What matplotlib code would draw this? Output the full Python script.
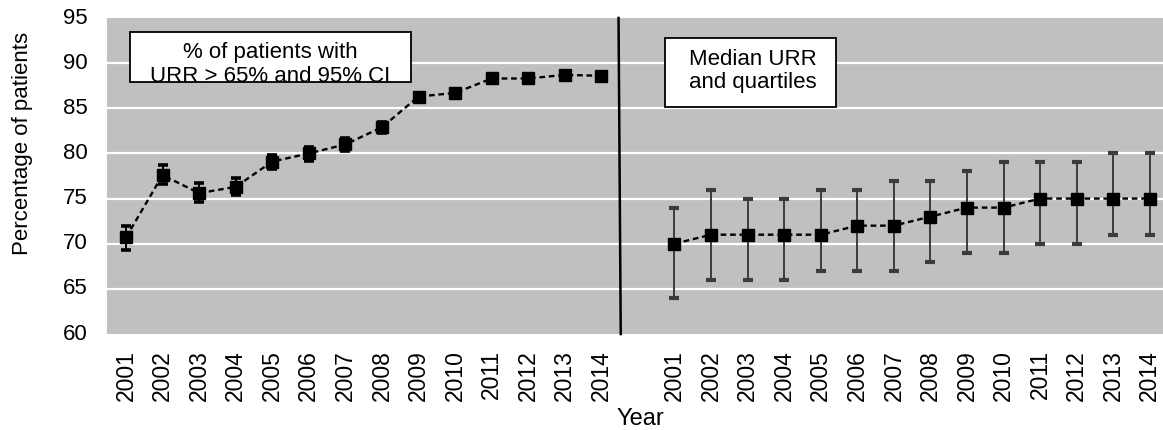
import matplotlib
matplotlib.use("Agg")
import matplotlib.pyplot as plt
from matplotlib.patches import Rectangle
import numpy as np

plt.rcParams['font.family'] = ['Liberation Sans', 'DejaVu Sans']

years = [2001, 2002, 2003, 2004, 2005, 2006, 2007, 2008, 2009, 2010, 2011, 2012, 2013, 2014]

# % of patients with URR > 65% and 95% CI
pct = [70.7, 77.6, 75.6, 76.3, 79.1, 80.0, 81.0, 82.9, 86.3, 86.7, 88.3, 88.3, 88.7, 88.6]
pct_lo = [69.3, 76.6, 74.6, 75.4, 78.3, 79.2, 80.3, 82.3, 85.8, 86.3, 88.0, 88.0, 88.4, 88.3]
pct_hi = [72.0, 78.7, 76.7, 77.3, 79.8, 80.7, 81.7, 83.5, 86.7, 87.1, 88.6, 88.6, 89.0, 88.9]

# Median URR and quartiles
median = [70, 71, 71, 71, 71, 72, 72, 73, 74, 74, 75, 75, 75, 75]
q1 = [64, 66, 66, 66, 67, 67, 67, 68, 69, 69, 70, 70, 71, 71]
q3 = [74, 76, 75, 75, 76, 76, 77, 77, 78, 79, 79, 79, 80, 80]

yticks = [60, 65, 70, 75, 80, 85, 90, 95]

W, H = 1163, 430
fig = plt.figure(figsize=(W / 100, H / 100), dpi=100)

def fx(px):
    return px / W

def fy(py):
    return 1 - py / H

ax = fig.add_axes([fx(107), fy(334), fx(1163) - fx(107), fy(18) - fy(334)])
ax.set_facecolor('#C0C0C0')
for s in ax.spines.values():
    s.set_visible(False)

n = len(years)
x_left = np.arange(n)
x_right = np.arange(n) + n + 1
sep_x = n - 0.5

ax.set_xlim(-0.52, 28.36)
ax.set_ylim(60, 95)
ax.set_yticks(yticks)
ax.set_yticklabels([str(v) for v in yticks])
for g in yticks[1:-1]:
    ax.axhline(g, color='white', lw=1.6, zorder=1)

ax.set_xticks(list(x_left) + list(x_right))
ax.set_xticklabels([str(y) for y in years] * 2, rotation=90)
ax.tick_params(axis='x', length=0, pad=11.5, labelsize=16.5)
ax.tick_params(axis='y', length=0, pad=14, labelsize=16)
for lab in ax.get_yticklabels():
    lab.set_verticalalignment('center')

dash = (2.4, 1.6)

# Left panel
pct_a = np.array(pct)
err_l = [pct_a - np.array(pct_lo), np.array(pct_hi) - pct_a]
ax.errorbar(x_left, pct, yerr=err_l, fmt='none', ecolor='black', elinewidth=1.4,
            capsize=3.6, capthick=2.6, zorder=3)
ax.plot(x_left, pct, color='black', lw=1.7, dashes=dash, marker='s', markersize=8,
        markerfacecolor='black', markeredgecolor='black', zorder=4)

# Right panel
med_a = np.array(median)
err_r = [med_a - np.array(q1), np.array(q3) - med_a]
eb2 = ax.errorbar(x_right, median, yerr=err_r, fmt='none', ecolor='#3c3c3c', elinewidth=1.4,
                  capsize=3.8, capthick=3.0, zorder=3)
for cap in eb2[1]:
    cap.set_color('black')
ax.plot(x_right, median, color='black', lw=1.7, dashes=dash, marker='s', markersize=8,
        markerfacecolor='black', markeredgecolor='black', zorder=4)

# separator line
ax.plot([sep_x - 0.03, sep_x + 0.03], [95, 60], color='black', lw=1.8, zorder=5, clip_on=False)

# Text boxes
r1 = Rectangle((fx(130), fy(82)), fx(411) - fx(130), fy(32) - fy(82), transform=fig.transFigure,
               facecolor='white', edgecolor='black', lw=1.3, zorder=6)
fig.add_artist(r1)
fig.text(fx(270), fy(58), '% of patients with', ha='center', va='baseline', fontsize=16, zorder=7)
t2 = fig.text(fx(270), fy(82), 'URR > 65% and 95% CI', ha='center', va='baseline', fontsize=16, zorder=7)
t2.set_clip_path(r1)
t2.set_clip_on(True)

r2 = Rectangle((fx(665), fy(107)), fx(836) - fx(665), fy(38) - fy(107), transform=fig.transFigure,
               facecolor='white', edgecolor='black', lw=1.3, zorder=6)
fig.add_artist(r2)
fig.text(fx(753), fy(65), 'Median URR', ha='center', va='baseline', fontsize=16, zorder=7)
fig.text(fx(753), fy(88), 'and quartiles', ha='center', va='baseline', fontsize=16, zorder=7)

fig.text(fx(23), fy(143), 'Percentage of patients', rotation=90, ha='center', va='center', fontsize=16)
fig.text(fx(640), fy(425), 'Year', ha='center', va='baseline', fontsize=17)

fig.savefig('out.png', dpi=100)
